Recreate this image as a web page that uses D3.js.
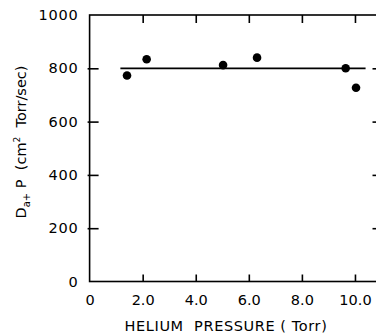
<!DOCTYPE html>
<html><head><meta charset="utf-8">
<script src="https://cdn.jsdelivr.net/npm/d3@7"></script>
<style>body{margin:0;background:#fff}svg{display:block}text{font-family:"DejaVu Sans",sans-serif;fill:#000}</style>
</head><body>
<svg id="c" width="376" height="334"></svg>
<script>
const pressure = [1.41, 2.15, 5.03, 6.31, 9.65, 10.04];
const dap = [773, 834, 812, 840, 800, 727];
const fitX = [1.16, 10.4];
const fitY = [800, 800];
const xTicks = [0, 2, 4, 6, 8, 10];
const xTickLabels = ["0", "2.0", "4.0", "6.0", "8.0", "10.0"];
const yTicks = [0, 200, 400, 600, 800, 1000];

const svg = d3.select("#c");
const x = d3.scaleLinear().domain([0, 11]).range([89.6, 381.5]);
const y = d3.scaleLinear().domain([0, 1000]).range([281.5, 15]);

const g = svg.append("g");
g.append("rect").attr("x", x(0)).attr("y", y(1000)).attr("width", x(11) - x(0)).attr("height", y(0) - y(1000))
  .attr("fill", "none").attr("stroke", "#000").attr("stroke-width", 1.6);

const leftAxis = d3.axisLeft(y).tickValues(yTicks).tickSize(-9).tickFormat(d => String(d));
const ga = g.append("g").attr("transform", `translate(${x(0)},0)`).call(leftAxis);
ga.select(".domain").remove();
ga.selectAll(".tick line").attr("stroke-width", 1.6).attr("x1", -2).filter(d => d === 1000 || d === 0).remove();
ga.selectAll(".tick text").attr("x", -11).style("font-size", "14.5px").style("letter-spacing", "0.8px").style("font-family", "DejaVu Sans");

const rightAxis = d3.axisRight(y).tickValues([200, 400, 600, 800]).tickSize(-9).tickFormat("");
const gr = g.append("g").attr("transform", `translate(${x(11)},0)`).call(rightAxis);
gr.select(".domain").remove();
gr.selectAll(".tick line").attr("stroke-width", 1.6);

const bottomAxis = d3.axisBottom(x).tickValues(xTicks).tickSize(-7).tickFormat((d, i) => xTickLabels[i]);
const gb = g.append("g").attr("transform", `translate(0,${y(0)})`).call(bottomAxis);
gb.select(".domain").remove();
gb.selectAll(".tick line").attr("stroke-width", 1.6).filter(d => d === 0).remove();
gb.selectAll(".tick text").attr("y", 13).style("font-size", "14.5px").style("font-family", "DejaVu Sans");

const topAxis = d3.axisTop(x).tickValues(xTicks.filter(d => d > 0)).tickSize(-8).tickFormat("");
const gt = g.append("g").attr("transform", `translate(0,${y(1000)})`).call(topAxis);
gt.select(".domain").remove();
gt.selectAll(".tick line").attr("stroke-width", 1.6);

g.append("line").attr("x1", x(fitX[0])).attr("x2", x(fitX[1])).attr("y1", y(fitY[0])).attr("y2", y(fitY[1]))
  .attr("stroke", "#000").attr("stroke-width", 1.8);

g.selectAll("circle.pt").data(pressure).enter().append("circle").attr("class", "pt")
  .attr("cx", d => x(d)).attr("cy", (d, i) => y(dap[i])).attr("r", 4.3).attr("fill", "#000");

svg.append("text").attr("x", 226).attr("y", 331).attr("text-anchor", "middle")
  .style("font-size", "14.5px").style("letter-spacing", "0.6px").attr("xml:space", "preserve").text("HELIUM  PRESSURE ( Torr)");

const yl = svg.append("text").attr("transform", "translate(26,142) rotate(-90)").attr("text-anchor", "middle")
  .style("font-size", "14.5px");
yl.append("tspan").text("D");
yl.append("tspan").attr("dy", 4).style("font-size", "10px").text("a+");
yl.append("tspan").attr("dy", -4).attr("xml:space", "preserve").text(" P  (cm");
yl.append("tspan").attr("dy", -6).style("font-size", "9px").text("2");
yl.append("tspan").attr("dy", 6).attr("xml:space", "preserve").text("  Torr/sec)");
</script>
</body></html>
